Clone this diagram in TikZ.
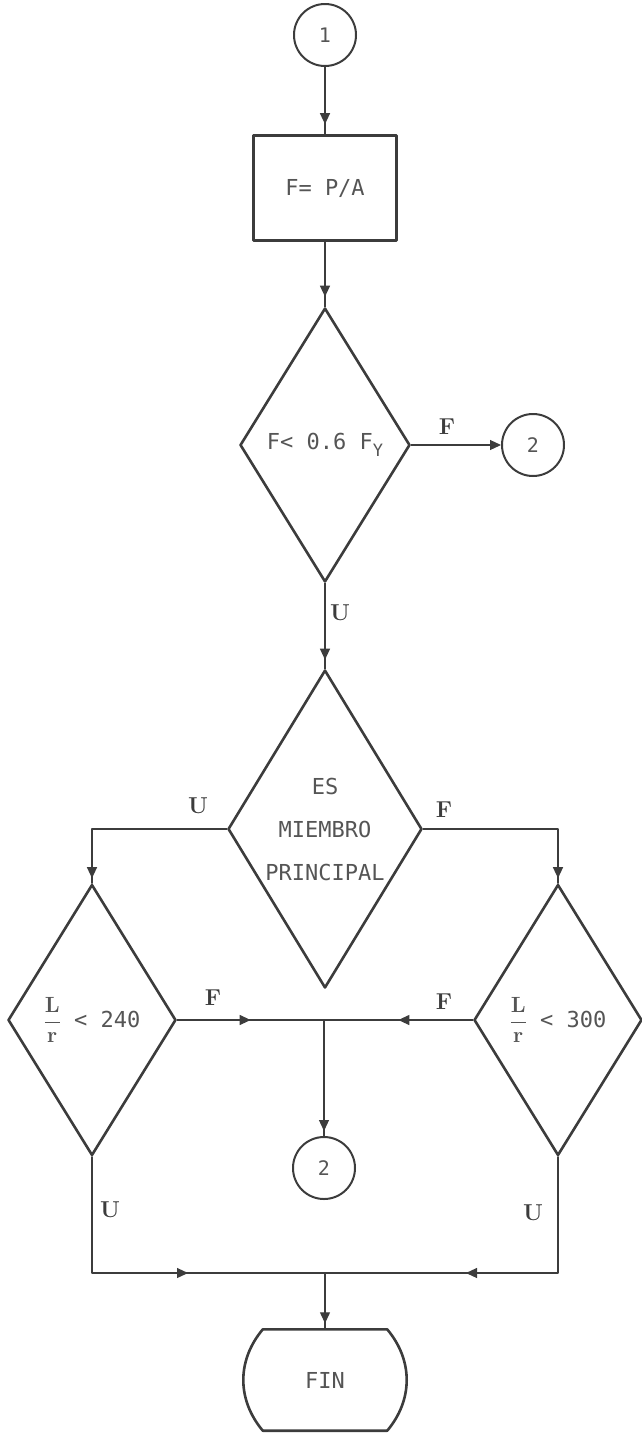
\documentclass[tikz,border=0pt]{standalone}
\usepackage{fix-cm}
\usepackage{fontspec}
\newfontfamily\dotfont{DejaVu Sans Mono}
\usetikzlibrary{shapes.geometric,arrows.meta,decorations.markings,calc}
\definecolor{ink}{HTML}{3C3C3C}
\definecolor{txt}{HTML}{555555}
\tikzset{
	con/.style={color=ink, line width=1.2pt},
	arrowat/.style={postaction={decorate}, decoration={markings, mark=at position #1 with {\arrow{Triangle[length=11pt,width=10pt]}}}},
	endtip/.style={-{Triangle[length=11pt,width=10pt]}},
	decision/.style={diamond, draw=ink, line width=2.6pt, aspect=0.6, inner sep=0pt, text=txt, align=center, font=\dotfont\fontsize{22}{43}\selectfont},
	connector/.style={circle, draw=ink, line width=2pt, minimum size=62pt, inner sep=0pt, text=txt, font=\dotfont\fontsize{20}{24}\selectfont},
	process/.style={rectangle, draw=ink, line width=2.6pt, minimum width=143pt, minimum height=105pt, text=txt, font=\dotfont\fontsize{22}{26}\selectfont},
	terminal/.style={rectangle, minimum width=124pt, minimum height=101pt, inner sep=0pt, text=txt, font=\dotfont\fontsize{22}{26}\selectfont},
	lbl/.style={text=ink, font=\bfseries\fontsize{23}{23}\selectfont},
}
\newcommand{\Lr}{$\displaystyle\frac{\hbox{\rmfamily\bfseries\fontsize{22}{22}\selectfont L}}{\hbox{\rmfamily\bfseries\fontsize{22}{22}\selectfont r}}$}
\begin{document}
\begin{tikzpicture}[x=1pt, y=-1pt, line join=round, line cap=round]
	\useasboundingbox (0,0) rectangle (642,1437);
	% nodes
	\node[connector] (c1) at (325,35) {1};
	\node[process] (calc) at (325,188) {F= P/A};
	\node[decision, minimum width=170pt, minimum height=274pt] (d1) at (325,445) {F< 0.6 F\raisebox{-0.55ex}{\fontsize{17}{17}\selectfont Y}};
	\node[connector] (c2a) at (533,445) {2};
	\node[decision, minimum width=194pt, minimum height=318pt] (d2) at (325,829) {ES\\MIEMBRO\\PRINCIPAL};
	\node[decision, minimum width=168pt, minimum height=271pt] (dl) at (92,1020) {\Lr\ < 240};
	\node[decision, minimum width=168pt, minimum height=271pt] (dr) at (558,1020) {\Lr\ < 300};
	\node[connector] (c2b) at (324,1168) {2};
	\node[terminal] (fin) at (325,1380) {FIN};
	\coordinate (j1) at (324,1020);
	\coordinate (j2) at (325,1273);
	\draw[ink, line width=2.6pt] (fin.north west) -- (fin.north east)
		.. controls ($(fin.north east)+(26,31)$) and ($(fin.south east)+(26,-31)$) .. (fin.south east)
		-- (fin.south west)
		.. controls ($(fin.south west)+(-26,-31)$) and ($(fin.north west)+(-26,31)$) .. cycle;
	% connectors
	\draw[con, arrowat=-10pt] (c1.south) -- (calc.north);
	\draw[con, arrowat=-10pt] (calc.south) -- (d1.north);
	\draw[con, endtip] (d1.east) -- (c2a.west);
	\draw[con, arrowat=-9pt] (d1.south) -- (d2.north);
	\draw[con, arrowat=-5pt] (d2.west) -| (dl.north);
	\draw[con, arrowat=-5pt] (d2.east) -| (dr.north);
	\draw[con, arrowat=0.5] (dl.east) -- (j1);
	\draw[con, arrowat=0.5] (dr.west) -- (j1);
	\draw[con, arrowat=-5pt] (j1) -- (c2b.north);
	\draw[con, arrowat=-137pt] (dl.south) |- (j2);
	\draw[con, arrowat=-141pt] (dr.south) |- (j2);
	\draw[con, arrowat=-6pt] (j2) -- (fin.north);
	% labels
	\foreach \n/\x/\y/\t in {f1/447/427/F, u1/340/613/U, u2/198/806/U, f2/444/810/F, f3/213/998/F, f4/444/1002/F, u3/110/1210/U, u4/533/1213/U}
	\node[lbl] (\n) at (\x,\y) {\t};
\end{tikzpicture}
\end{document}
